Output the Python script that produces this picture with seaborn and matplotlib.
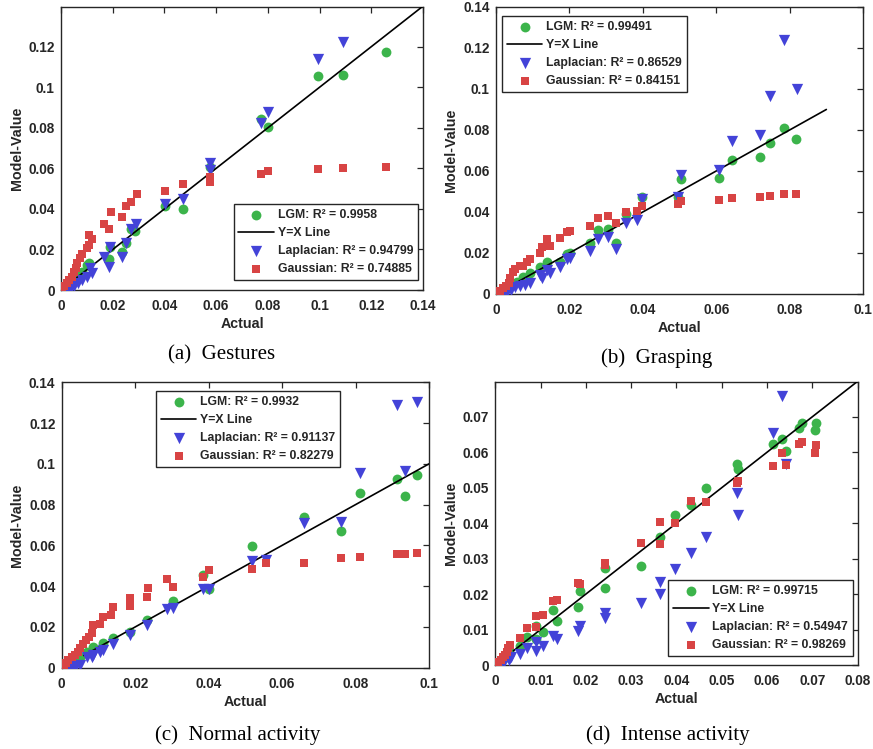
import numpy as np
import matplotlib
matplotlib.use("Agg")
import matplotlib.pyplot as plt
from matplotlib.ticker import FuncFormatter
import seaborn as sns

sns.set_theme(style="white")
plt.rcParams["font.family"] = ["Liberation Sans", "DejaVu Sans"]
plt.rcParams["font.weight"] = "bold"

GREEN = "#3cb44b"
BLUE = "#4343d8"
RED = "#d84444"

# ---------------- (a) Gestures ----------------
gest_lgm_x = [0.0005, 0.0012, 0.002, 0.003, 0.004, 0.005, 0.006, 0.008, 0.0102, 0.0108, 0.0186, 0.0189,
              0.0234, 0.0251, 0.027, 0.0286, 0.0404, 0.047, 0.0576, 0.0775, 0.0802, 0.0994, 0.1091, 0.1256]
gest_lgm_y = [0.0006, 0.0012, 0.002, 0.003, 0.004, 0.0055, 0.007, 0.009, 0.0123, 0.0131, 0.0155, 0.0212,
              0.0186, 0.023, 0.030, 0.0291, 0.0416, 0.0398, 0.0605, 0.0845, 0.0804, 0.1055, 0.106, 0.1174]
gest_lap_x = [0.0005, 0.001, 0.002, 0.003, 0.004, 0.005, 0.0067, 0.008, 0.0102, 0.0112, 0.0118, 0.0167,
              0.0186, 0.0189, 0.0234, 0.0251, 0.027, 0.0289, 0.0404, 0.047, 0.0576, 0.0576, 0.0773,
              0.0802, 0.0994, 0.1091]
gest_lap_y = [0.0001, 0.0002, 0.0003, 0.0006, 0.0012, 0.002, 0.0033, 0.005, 0.0066, 0.0107, 0.0082, 0.0161,
              0.0115, 0.0214, 0.0164, 0.023, 0.0299, 0.0325, 0.0424, 0.0449, 0.0592, 0.0628, 0.0822,
              0.0876, 0.1141, 0.1221]
gest_gau_x = [0.0005, 0.0013, 0.0022, 0.0032, 0.0041, 0.005, 0.0058, 0.0063, 0.0073, 0.008, 0.0099, 0.0109,
              0.0118, 0.0109, 0.0167, 0.0186, 0.0192, 0.0234, 0.0251, 0.027, 0.0292, 0.0404, 0.047,
              0.0576, 0.0576, 0.0773, 0.0802, 0.0994, 0.1091, 0.1256]
gest_gau_y = [0.0008, 0.002, 0.0033, 0.0049, 0.0066, 0.009, 0.0107, 0.0132, 0.0156, 0.0178, 0.0205, 0.0222,
              0.0252, 0.0273, 0.0325, 0.0302, 0.0383, 0.0358, 0.0416, 0.0436, 0.0472, 0.049, 0.0521,
              0.0534, 0.0559, 0.0572, 0.0587, 0.0597, 0.0603, 0.0608]
gest_line = [0.005, 0.14]
gest_r2 = ["0.9958", "0.94799", "0.74885"]

# ---------------- (b) Grasping ----------------
grasp_lgm_x = [0.0005, 0.001, 0.002, 0.003, 0.004, 0.0056, 0.0074, 0.0093, 0.012, 0.014, 0.0174, 0.0192,
               0.0201, 0.0256, 0.0277, 0.0304, 0.0327, 0.0353, 0.0398, 0.0496, 0.0503, 0.0608, 0.0643,
               0.0719, 0.0746, 0.0784, 0.0817]
grasp_lgm_y = [0.0005, 0.001, 0.002, 0.003, 0.0045, 0.006, 0.0085, 0.0101, 0.013, 0.0158, 0.0158, 0.0195,
               0.0199, 0.0247, 0.0313, 0.0316, 0.0247, 0.0389, 0.0475, 0.0475, 0.0562, 0.0568, 0.0654,
               0.0666, 0.0736, 0.0812, 0.0757]
grasp_lap_x = [0.0005, 0.001, 0.002, 0.003, 0.004, 0.0052, 0.0065, 0.0079, 0.0093, 0.012, 0.0124, 0.014,
               0.0147, 0.0174, 0.0192, 0.0201, 0.0256, 0.0277, 0.0304, 0.0327, 0.0353, 0.0383, 0.0398,
               0.0496, 0.0503, 0.0608, 0.0643, 0.0719, 0.0746, 0.0784, 0.0819]
grasp_lap_y = [0.0001, 0.0002, 0.0005, 0.0012, 0.002, 0.0033, 0.0039, 0.0044, 0.0055, 0.0093, 0.0077, 0.0117,
               0.0101, 0.0133, 0.0169, 0.0174, 0.0212, 0.0267, 0.028, 0.0218, 0.0348, 0.0361, 0.0462,
               0.0475, 0.0581, 0.0606, 0.0747, 0.0776, 0.0964, 0.124, 0.1]
grasp_gau_x = [0.0004, 0.0011, 0.0018, 0.0026, 0.0034, 0.0038, 0.0045, 0.0052, 0.0065, 0.0074, 0.0085,
               0.0093, 0.012, 0.0124, 0.014, 0.0147, 0.0174, 0.0192, 0.0201, 0.0256, 0.0277, 0.0304,
               0.0327, 0.0353, 0.0383, 0.0398, 0.0496, 0.0503, 0.0608, 0.0643, 0.0719, 0.0746, 0.0784,
               0.0817]
grasp_gau_y = [0.0007, 0.0016, 0.0028, 0.0039, 0.0055, 0.0077, 0.0109, 0.012, 0.0137, 0.0137, 0.0158,
               0.0169, 0.0199, 0.0231, 0.0267, 0.0234, 0.0272, 0.03, 0.0308, 0.0334, 0.037, 0.0378,
               0.0345, 0.0402, 0.0407, 0.0427, 0.044, 0.0454, 0.0459, 0.047, 0.0472, 0.048, 0.0487,
               0.0487]
grasp_line = [0.0055, 0.09]
grasp_r2 = ["0.99491", "0.86529", "0.84151"]

# ---------------- (c) Normal activity ----------------
norm_lgm_x = [0.0005, 0.001, 0.002, 0.003, 0.004, 0.005, 0.0068, 0.0086, 0.0113, 0.0139, 0.0186, 0.0231,
              0.0302, 0.0386, 0.0402, 0.0519, 0.0661, 0.076, 0.0812, 0.0912, 0.0935, 0.0968]
norm_lgm_y = [0.0005, 0.001, 0.002, 0.003, 0.004, 0.0055, 0.0079, 0.0103, 0.0119, 0.0144, 0.0177, 0.0234,
              0.0329, 0.0455, 0.0386, 0.0599, 0.0741, 0.0671, 0.0855, 0.0926, 0.0842, 0.0945]
norm_lap_x = [0.0005, 0.001, 0.002, 0.003, 0.004, 0.005, 0.0068, 0.0082, 0.0086, 0.0104, 0.0113, 0.0139,
              0.0186, 0.0231, 0.0286, 0.0302, 0.0386, 0.0402, 0.0519, 0.0555, 0.0661, 0.076, 0.0812,
              0.0912, 0.0935, 0.0968]
norm_lap_y = [0.0001, 0.0001, 0.0003, 0.0005, 0.0008, 0.0013, 0.0051, 0.0051, 0.0062, 0.0079, 0.0087, 0.0116,
              0.016, 0.0209, 0.0288, 0.0291, 0.0386, 0.0386, 0.0523, 0.0528, 0.0708, 0.0716, 0.0954,
              0.1289, 0.0967, 0.1302]
norm_gau_x = [0.0005, 0.0011, 0.0018, 0.0027, 0.0036, 0.0043, 0.005, 0.0059, 0.0066, 0.0073, 0.0082,
              0.0086, 0.0104, 0.0113, 0.0134, 0.0139, 0.0186, 0.0186, 0.0231, 0.0234, 0.0286, 0.0302,
              0.0386, 0.0402, 0.0519, 0.0555, 0.0661, 0.076, 0.0812, 0.0912, 0.0935, 0.0968]
norm_gau_y = [0.0013, 0.0025, 0.0038, 0.0051, 0.0062, 0.0079, 0.0095, 0.0116, 0.0136, 0.0152, 0.0168,
              0.0209, 0.0213, 0.025, 0.0258, 0.0296, 0.0303, 0.0343, 0.0348, 0.0389, 0.0435, 0.0397,
              0.0443, 0.0479, 0.0483, 0.0512, 0.0515, 0.054, 0.0541, 0.0558, 0.0556, 0.0561]
norm_line = [0.006, 0.1]
norm_r2 = ["0.9932", "0.91137", "0.82279"]

# ---------------- (d) Intense activity ----------------
int_lgm_x = [0.0005, 0.001, 0.002, 0.0025, 0.003, 0.0054, 0.0071, 0.0089, 0.009, 0.0106, 0.0128, 0.0137,
             0.0183, 0.0188, 0.0242, 0.0242, 0.0322, 0.0364, 0.0397, 0.0433, 0.0465, 0.0533, 0.0535,
             0.0614, 0.0632, 0.0641, 0.0671, 0.0676, 0.0706, 0.0709]
int_lgm_y = [0.0005, 0.001, 0.002, 0.003, 0.004, 0.0054, 0.008, 0.0072, 0.011, 0.0094, 0.0155, 0.0125,
             0.0164, 0.021, 0.0216, 0.0274, 0.028, 0.036, 0.0423, 0.0451, 0.0498, 0.0566, 0.0552,
             0.0623, 0.0637, 0.0603, 0.0667, 0.0681, 0.0662, 0.0681]
int_lap_x = [0.0005, 0.001, 0.002, 0.003, 0.0035, 0.0054, 0.0071, 0.0089, 0.009, 0.0106, 0.0128, 0.0137,
             0.0183, 0.0188, 0.0242, 0.0242, 0.0322, 0.0364, 0.0364, 0.0397, 0.0433, 0.0465, 0.0533,
             0.0535, 0.0614, 0.0632, 0.0641]
int_lap_y = [0.0001, 0.0003, 0.0008, 0.0015, 0.0024, 0.0031, 0.0047, 0.0039, 0.0064, 0.0054, 0.0083, 0.0072,
             0.0096, 0.011, 0.0132, 0.0148, 0.0174, 0.02, 0.0233, 0.027, 0.0315, 0.0362, 0.0486,
             0.0423, 0.0653, 0.0758, 0.0568]
int_gau_x = [0.0007, 0.0012, 0.0016, 0.0021, 0.0025, 0.0029, 0.0032, 0.0054, 0.0071, 0.0089, 0.009, 0.0106,
             0.0128, 0.0137, 0.0183, 0.0188, 0.0242, 0.0242, 0.0322, 0.0364, 0.0364, 0.0397, 0.0433,
             0.0465, 0.0533, 0.0535, 0.0614, 0.0632, 0.0641, 0.0671, 0.0676, 0.0706, 0.0709]
int_gau_y = [0.0008, 0.0014, 0.0022, 0.0028, 0.0038, 0.0047, 0.0056, 0.0077, 0.0105, 0.0108, 0.0139, 0.0141,
             0.0181, 0.0182, 0.0232, 0.0228, 0.0282, 0.0287, 0.0345, 0.034, 0.0404, 0.0399, 0.0462,
             0.0459, 0.0514, 0.0519, 0.0561, 0.0599, 0.0564, 0.0623, 0.063, 0.0598, 0.062]
int_line = [0.004, 0.08]
int_r2 = ["0.99715", "0.54947", "0.98269"]

TICK_FS = 9.8
LABEL_FS = 10.3
LEGEND_FS = 8.8


def g_fmt(v, _pos):
    return f"{round(v, 6):g}"


def draw_panel(ax, lgm, lap, gau, line, r2, xlim, ylim, xticks, yticks, loc, anchor):
    sns.scatterplot(x=lgm[0], y=lgm[1], ax=ax, color=GREEN, marker="o", s=50, linewidth=0,
                    label=f"LGM: R² = {r2[0]}", zorder=3)
    sns.lineplot(x=line, y=line, ax=ax, color="black", linewidth=1.2, sort=False, estimator=None,
                 label="Y=X Line", zorder=4)
    sns.scatterplot(x=lap[0], y=lap[1], ax=ax, color=BLUE, marker="v", s=66, linewidth=0,
                    label=f"Laplacian: R² = {r2[1]}", zorder=5)
    sns.scatterplot(x=gau[0], y=gau[1], ax=ax, color=RED, marker="s", s=33, linewidth=0,
                    label=f"Gaussian: R² = {r2[2]}", zorder=6)

    ax.set_xlim(*xlim)
    ax.set_ylim(*ylim)
    ax.set_xticks(xticks)
    ax.set_yticks(yticks)
    ax.xaxis.set_major_formatter(FuncFormatter(g_fmt))
    ax.yaxis.set_major_formatter(FuncFormatter(g_fmt))
    ax.tick_params(direction="in", top=True, right=True, length=4, width=0.9,
                   labelsize=TICK_FS, colors="#262626")
    ax.tick_params(axis="x", pad=6.5)
    ax.tick_params(axis="y", pad=4.5)
    for lab in ax.get_xticklabels() + ax.get_yticklabels():
        lab.set_fontweight("bold")
    for sp in ax.spines.values():
        sp.set_color("#262626")
        sp.set_linewidth(1.0)
    ax.set_xlabel("Actual", fontsize=LABEL_FS, fontweight="bold", color="#262626", labelpad=3)
    ax.set_ylabel("Model-Value", fontsize=LABEL_FS, fontweight="bold", color="#262626", labelpad=3.5)

    leg = ax.legend(loc=loc, bbox_to_anchor=anchor, fontsize=LEGEND_FS, frameon=True, fancybox=False,
                    framealpha=1, edgecolor="#262626", handlelength=2.9, handletextpad=0.3,
                    labelspacing=0.5, borderpad=0.4, borderaxespad=0.0)
    leg.get_frame().set_linewidth(1.0)
    for t in leg.get_texts():
        t.set_fontweight("bold")
        t.set_color("#262626")


fig = plt.figure(figsize=(8.73, 7.49), dpi=100)

ax_a = fig.add_axes([0.0699, 0.6128, 0.4146, 0.3779])
ax_b = fig.add_axes([0.5682, 0.6075, 0.4204, 0.3832])
ax_c = fig.add_axes([0.0707, 0.1085, 0.4207, 0.3811])
ax_d = fig.add_axes([0.5673, 0.1121, 0.4152, 0.3775])

draw_panel(ax_a, (gest_lgm_x, gest_lgm_y), (gest_lap_x, gest_lap_y), (gest_gau_x, gest_gau_y),
           gest_line, gest_r2, (0, 0.14), (0, 0.1396), np.arange(0, 0.141, 0.02),
           np.arange(0, 0.121, 0.02), "lower right", (0.986, 0.035))
draw_panel(ax_b, (grasp_lgm_x, grasp_lgm_y), (grasp_lap_x, grasp_lap_y), (grasp_gau_x, grasp_gau_y),
           grasp_line, grasp_r2, (0, 0.1), (0, 0.14), np.arange(0, 0.101, 0.02),
           np.arange(0, 0.141, 0.02), "upper left", (0.016, 0.969))
draw_panel(ax_c, (norm_lgm_x, norm_lgm_y), (norm_lap_x, norm_lap_y), (norm_gau_x, norm_gau_y),
           norm_line, norm_r2, (0, 0.1), (0, 0.14), np.arange(0, 0.101, 0.02),
           np.arange(0, 0.141, 0.02), "upper left", (0.257, 0.970))
draw_panel(ax_d, (int_lgm_x, int_lgm_y), (int_lap_x, int_lap_y), (int_gau_x, int_gau_y),
           int_line, int_r2, (0, 0.08), (0, 0.0797), np.arange(0, 0.081, 0.01),
           np.arange(0, 0.071, 0.01), "lower right", (0.987, 0.032))

cap_kw = dict(fontsize=15, family=["Liberation Serif", "DejaVu Serif"], fontweight="normal",
              ha="center", va="center", color="black")
fig.text(222 / 873, 1 - 355 / 749, "(a)  Gestures", **cap_kw)
fig.text(657 / 873, 1 - 358 / 749, "(b)  Grasping", **cap_kw)
fig.text(238 / 873, 1 - 735 / 749, "(c)  Normal activity", **cap_kw)
fig.text(668 / 873, 1 - 735 / 749, "(d)  Intense activity", **cap_kw)

fig.savefig("out.png", dpi=100)
